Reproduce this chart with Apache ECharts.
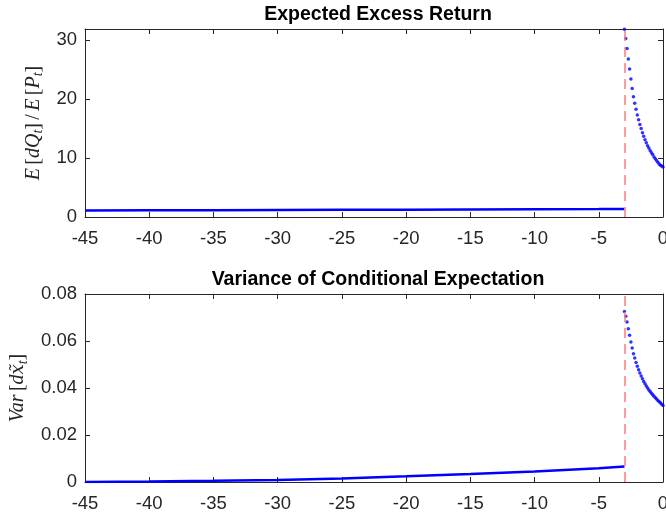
<!DOCTYPE html>
<html>
<head>
<meta charset="utf-8">
<script src="https://cdn.jsdelivr.net/npm/echarts@6/dist/echarts.min.js"></script>
<style>
  html, body { margin: 0; padding: 0; background: #ffffff; }
  #chart { width: 666px; height: 516px; }
</style>
</head>
<body>
<div id="chart"></div>
<script>
// Horizon grid before the switch point (solid line)
const xPre = [-45, -40, -35, -30, -25, -20, -15, -10, -5, -3];
const returnPre = [1.12, 1.14, 1.16, 1.19, 1.22, 1.25, 1.28, 1.31, 1.34, 1.36];
const variancePre = [0.0000, 0.0002, 0.0005, 0.0009, 0.0015, 0.0024, 0.0034, 0.0045, 0.0058, 0.0066];

// Horizon grid after the switch point (dotted)
const xPost = [-3.0, -2.9, -2.8, -2.7, -2.6, -2.5, -2.4, -2.3, -2.2, -2.1, -2.0,
               -1.9, -1.8, -1.7, -1.6, -1.5, -1.4, -1.3, -1.2, -1.1, -1.0,
               -0.9, -0.8, -0.7, -0.6, -0.5, -0.4, -0.3, -0.2, -0.1, 0.0];
const returnPost = [31.85, 30.3, 28.6, 26.8, 25.1, 23.4, 21.8, 20.4, 19.3, 18.3, 17.3,
                    16.5, 15.7, 15.0, 14.3, 13.7, 13.1, 12.6, 12.1, 11.7, 11.3,
                    10.9, 10.6, 10.2, 9.9, 9.6, 9.3, 9.0, 8.8, 8.65, 8.5];
const variancePost = [0.0726, 0.0705, 0.0681, 0.0652, 0.0624, 0.0596, 0.0570, 0.0546, 0.0528, 0.0509, 0.0493,
                      0.0478, 0.0464, 0.0451, 0.0439, 0.0428, 0.0418, 0.0409, 0.0400, 0.0392, 0.0385,
                      0.0378, 0.0371, 0.0365, 0.0359, 0.0353, 0.0347, 0.0342, 0.0337, 0.0331, 0.0326];

const switchX = -3;
const titles = ['Expected Excess Return', 'Variance of Conditional Expectation'];
const xTickStep = 5;
const xRange = [-45, 0];
const returnRange = [0, 31.9];
const returnTickStep = 10;
const varianceRange = [0, 0.08];
const varianceTickStep = 0.02;

const pairs = (xs, ys) => xs.map((x, i) => [x, ys[i]]);

const AX = '#262626';
const BLUE = '#0000ff';
const tickFont = { fontFamily: 'Liberation Sans, Arial, sans-serif', fontSize: 18.5, color: AX };

function xAx(gridIndex, top) {
  return {
    type: 'value', gridIndex, position: top ? 'top' : 'bottom',
    min: xRange[0], max: xRange[1], interval: xTickStep,
    axisLine: { show: true, onZero: false, lineStyle: { color: AX, width: 1 } },
    axisTick: { show: true, inside: true, length: 5, lineStyle: { color: AX } },
    axisLabel: top ? { show: false } : Object.assign({ show: true, margin: 12 }, tickFont),
    splitLine: { show: false }
  };
}
function yAx(gridIndex, right, range, step, fmt, name, rich, gap) {
  const ax = {
    type: 'value', gridIndex, position: right ? 'right' : 'left',
    min: range[0], max: range[1], interval: step,
    axisLine: { show: true, onZero: false, lineStyle: { color: AX, width: 1 } },
    axisTick: { show: true, inside: true, length: 5, lineStyle: { color: AX } },
    axisLabel: right ? { show: false } : Object.assign({ show: true, margin: 8, formatter: fmt }, tickFont),
    splitLine: { show: false }
  };
  if (!right) {
    ax.name = name;
    ax.nameLocation = 'middle';
    ax.nameRotate = 90;
    ax.nameGap = gap;
    ax.nameTextStyle = { rich };
  }
  return ax;
}

const serif = 'Liberation Serif, Times New Roman, serif';
const rich = {
  i: { fontFamily: serif, fontStyle: 'italic', fontSize: 20, color: AX, lineHeight: 24, verticalAlign: 'middle' },
  x: { fontFamily: 'DejaVu Serif, serif', fontStyle: 'italic', fontSize: 18, color: AX, lineHeight: 24, verticalAlign: 'middle' },
  r: { fontFamily: serif, fontSize: 20, color: AX, lineHeight: 24, verticalAlign: 'middle' },
  s: { fontFamily: serif, fontStyle: 'italic', fontSize: 14, color: AX, lineHeight: 14, verticalAlign: 'bottom' }
};
const returnName = '{i|E} {r|[}{i|dQ}{s|t}{r|]} {r|/} {i|E} {r|[}{i|P}{s|t}{r|]}';
const varianceName = '{i|Var} {r|[}{i|d}{x|x\u0303}{s|t}{r|]}';

const fmtReturn = v => (Math.abs(v % returnTickStep) < 1e-9 ? String(v) : '');
const fmtVariance = v => {
  const k = Math.round(v / varianceTickStep);
  if (Math.abs(v - k * varianceTickStep) > 1e-9) return '';
  return k === 0 ? '0' : (k * varianceTickStep).toFixed(2);
};

const marker = {
  silent: true, symbol: 'none', animation: false,
  label: { show: false },
  lineStyle: { color: '#ff7b7b', type: [10, 6], width: 1.5 },
  data: [{ xAxis: switchX }]
};

const option = {
  backgroundColor: '#ffffff',
  animation: false,
  title: titles.map((t, i) => ({
    text: t, left: 373, top: i === 0 ? 0 : 265, textAlign: 'center',
    textStyle: { fontFamily: 'Liberation Sans, Arial, sans-serif', fontWeight: 'bold', fontSize: 19.5, color: '#000' }
  })),
  grid: [
    { left: 85, right: 3, top: 29, height: 188, containLabel: false, outerBoundsMode: 'none' },
    { left: 85, right: 3, top: 294, height: 188, containLabel: false, outerBoundsMode: 'none' }
  ],
  xAxis: [xAx(0, false), xAx(0, true), xAx(1, false), xAx(1, true)],
  yAxis: [
    yAx(0, false, returnRange, returnTickStep, fmtReturn, returnName, rich, 36),
    yAx(0, true, returnRange, returnTickStep, fmtReturn),
    yAx(1, false, varianceRange, varianceTickStep, fmtVariance, varianceName, rich, 52),
    yAx(1, true, varianceRange, varianceTickStep, fmtVariance)
  ],
  series: [
    { type: 'line', xAxisIndex: 0, yAxisIndex: 0, data: pairs(xPre, returnPre), showSymbol: false,
      lineStyle: { color: BLUE, width: 2.5 }, markLine: marker, z: 3 },
    { type: 'scatter', xAxisIndex: 0, yAxisIndex: 0, data: pairs(xPost, returnPost), symbolSize: 3.5,
      itemStyle: { color: BLUE }, clip: false, z: 4 },
    { type: 'line', xAxisIndex: 2, yAxisIndex: 2, data: pairs(xPre, variancePre), showSymbol: false,
      lineStyle: { color: BLUE, width: 2.5 }, markLine: marker, z: 3 },
    { type: 'scatter', xAxisIndex: 2, yAxisIndex: 2, data: pairs(xPost, variancePost), symbolSize: 3.5,
      itemStyle: { color: BLUE }, clip: false, z: 4 }
  ]
};

const chart = echarts.init(document.getElementById('chart'), null, { renderer: 'canvas' });
chart.setOption(option);
</script>
</body>
</html>
